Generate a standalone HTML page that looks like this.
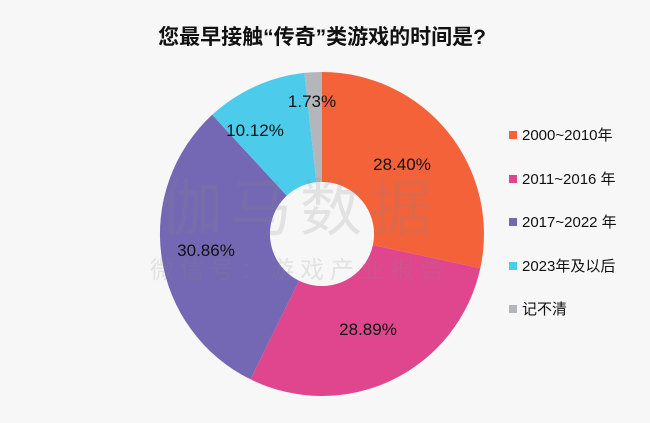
<!DOCTYPE html>
<html><head><meta charset="utf-8"><style>
body{margin:0;width:650px;height:418px;background:#f7f7f7;overflow:hidden;font-family:"Liberation Sans","Noto Sans CJK SC",sans-serif}
</style></head><body>
<svg width="650" height="418" viewBox="0 0 650 418" xmlns="http://www.w3.org/2000/svg" font-family="Liberation Sans, Noto Sans CJK SC, sans-serif">
<rect width="650" height="418" fill="#f7f7f7"/>
<text x="322" y="44" text-anchor="middle" font-size="21" font-weight="bold" fill="#111">您最早接触“传奇”类游戏的时间是?</text>
<path d="M322,72 A162,162 0 0 1 480.3,268.3 L372.8,245 A52,52 0 0 0 322,182 Z" fill="#F4623A"/>
<path d="M480.3,268.3 A162,162 0 0 1 250.4,379.3 L299,280.6 A52,52 0 0 0 372.8,245 Z" fill="#E0468E"/>
<path d="M250.4,379.3 A162,162 0 0 1 212.2,114.8 L286.8,195.8 A52,52 0 0 0 299,280.6 Z" fill="#7468B4"/>
<path d="M212.2,114.8 A162,162 0 0 1 304.4,72.9 L316.4,182.3 A52,52 0 0 0 286.8,195.8 Z" fill="#4DCBEA"/>
<path d="M304.4,72.9 A162,162 0 0 1 322,72 L322,182 A52,52 0 0 0 316.4,182.3 Z" fill="#B3B6BB"/>
<circle cx="322" cy="234" r="52" fill="#f7f7f7"/>
<text x="300" y="230" text-anchor="middle" font-size="62" fill="#888" opacity="0.18" letter-spacing="8">伽马数据</text>
<text x="300" y="278" text-anchor="middle" font-size="24" fill="#888" opacity="0.18" letter-spacing="6">微信号：游戏产业报告</text>
<g font-size="17" fill="#111">
<text x="402" y="170" text-anchor="middle">28.40%</text>
<text x="368" y="335" text-anchor="middle">28.89%</text>
<text x="206" y="256" text-anchor="middle">30.86%</text>
<text x="255" y="136" text-anchor="middle">10.12%</text>
<text x="312" y="107" text-anchor="middle">1.73%</text>
</g>
<g font-size="15" fill="#111">
<rect x="509" y="131" width="8" height="8" fill="#F4623A"/><text x="522" y="140">2000~2010年</text>
<rect x="509" y="175" width="8" height="8" fill="#E0468E"/><text x="522" y="184">2011~2016 年</text>
<rect x="509" y="218" width="8" height="8" fill="#7468B4"/><text x="522" y="227">2017~2022 年</text>
<rect x="509" y="262" width="8" height="8" fill="#4DCBEA"/><text x="522" y="271">2023年及以后</text>
<rect x="509" y="305" width="8" height="8" fill="#B3B6BB"/><text x="522" y="314">记不清</text>
</g>
</svg>
</body></html>
